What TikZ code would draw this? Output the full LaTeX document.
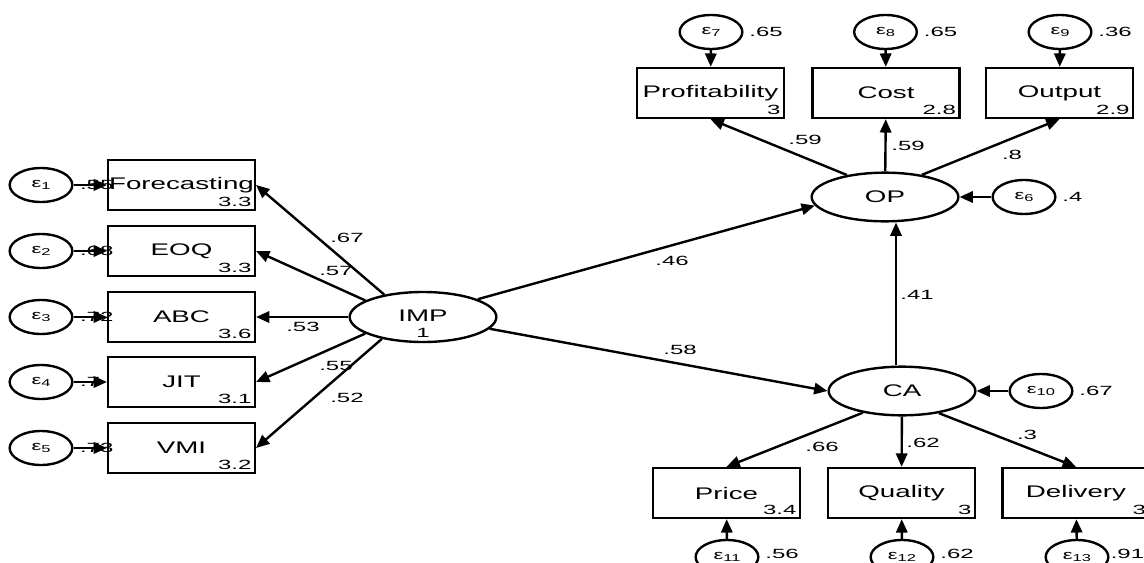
\documentclass[tikz,border=0pt]{standalone}
\usepackage{fontspec}
\setmainfont{Liberation Sans}[FakeStretch=1.65]
\newfontfamily\numfamily{Liberation Sans}[FakeStretch=1.8]
\usetikzlibrary{arrows.meta,shapes.geometric}

\newcommand{\varfont}{\fontsize{12.6}{14}\selectfont}
\newcommand{\coeffont}{\numfamily\fontsize{10}{11}\selectfont}
\newcommand{\eps}[1]{ε\raisebox{-0.35ex}{\fontsize{7.5}{8}\selectfont #1}}

\tikzset{every picture/.style={line width=1.8pt}}

\begin{document}
\begin{tikzpicture}[x=0.75pt,y=0.75pt,yscale=-1,xscale=1,
  obsbox/.style={draw,rectangle,minimum width=110pt,minimum height=37.5pt,inner sep=0pt,font=\varfont},
  latent/.style={draw,ellipse,minimum width=110pt,minimum height=36.5pt,inner sep=0pt,font=\varfont},
  errc/.style={draw,ellipse,minimum width=47pt,minimum height=25.5pt,inner sep=0pt,font=\fontsize{10}{11}\selectfont},
  lnk/.style={-{Triangle[length=10pt,width=8.5pt]}},
  coef/.style={font=\coeffont,inner sep=0pt},
  mean/.style={font=\coeffont,anchor=south east,inner sep=2.5pt}]

\useasboundingbox (0,0) rectangle (1144,563);
\clip (0,0) rectangle (1144,563);

%Shape: Latent variables
\node[latent,minimum height=37.5pt] (imp) at (423,317) {};
\node[font=\varfont] (impname) at (423,316) {IMP};
\node[coef] (impmean) at (423,333) {1};
\node[latent] (op) at (885,197) {OP};
\node[latent] (ca) at (902,391) {CA};

%Shape: Observed variables (left)
\node[obsbox] (fc) at (181.5,185) {Forecasting};
\node[obsbox] (eoq) at (181.5,251) {EOQ};
\node[obsbox] (abc) at (181.5,317) {ABC};
\node[obsbox] (jit) at (181.5,382) {JIT};
\node[obsbox] (vmi) at (181.5,448) {VMI};
\node[mean] (fcm) at (fc.south east) {3.3};
\node[mean] (eoqm) at (eoq.south east) {3.3};
\node[mean] (abcm) at (abc.south east) {3.6};
\node[mean] (jitm) at (jit.south east) {3.1};
\node[mean] (vmim) at (vmi.south east) {3.2};

%Shape: Observed variables (top)
\node[obsbox] (prof) at (710.5,93) {Profitability};
\node[obsbox] (cost) at (886,93) {Cost};
\node[obsbox] (outp) at (1059.5,93) {Output};
\node[mean] (profm) at (prof.south east) {3};
\node[mean] (costm) at (cost.south east) {2.8};
\node[mean] (outpm) at (outp.south east) {2.9};

%Shape: Observed variables (bottom)
\node[obsbox] (price) at (726.5,493) {Price};
\node[obsbox] (qual) at (901.5,493) {Quality};
\node[obsbox] (deliv) at (1076,493) {Delivery};
\node[mean] (pricem) at (price.south east) {3.4};
\node[mean] (qualm) at (qual.south east) {3};
\node[mean] (delivm) at (deliv.south east) {3};

%Shape: Error terms
\node[errc] (e1) at (41,185) {\eps{1}};
\node[errc] (e2) at (41,251) {\eps{2}};
\node[errc] (e3) at (41,317) {\eps{3}};
\node[errc] (e4) at (41,382) {\eps{4}};
\node[errc] (e5) at (41,448) {\eps{5}};
\node[errc] (e6) at (1024,197) {\eps{6}};
\node[errc] (e7) at (711,32) {\eps{7}};
\node[errc] (e8) at (885.5,32) {\eps{8}};
\node[errc] (e9) at (1060,32) {\eps{9}};
\node[errc] (e10) at (1041,391) {\eps{10}};
\node[errc] (e11) at (727,557) {\eps{11}};
\node[errc] (e12) at (902,557) {\eps{12}};
\node[errc] (e13) at (1077,557) {\eps{13}};

% Text Node: error variances
\node[coef,anchor=west] (v1) at ([xshift=4pt]e1.east) {.55};
\node[coef,anchor=west] (v2) at ([xshift=4pt]e2.east) {.68};
\node[coef,anchor=west] (v3) at ([xshift=4pt]e3.east) {.72};
\node[coef,anchor=west] (v4) at ([xshift=4pt]e4.east) {.7};
\node[coef,anchor=west] (v5) at ([xshift=4pt]e5.east) {.73};
\node[coef,anchor=west] (v6) at ([xshift=3.5pt]e6.east) {.4};
\node[coef,anchor=west] (v7) at ([xshift=3.5pt]e7.east) {.65};
\node[coef,anchor=west] (v8) at ([xshift=3.5pt]e8.east) {.65};
\node[coef,anchor=west] (v9) at ([xshift=3.5pt]e9.east) {.36};
\node[coef,anchor=west] (v10) at ([xshift=3.5pt]e10.east) {.67};
\node[coef,anchor=west] (v11) at ([xshift=3.5pt,yshift=-2pt]e11.east) {.56};
\node[coef,anchor=west] (v12) at ([xshift=3.5pt,yshift=-2pt]e12.east) {.62};
\node[coef,anchor=west] (v13) at ([xshift=0pt,yshift=-2pt]e13.east) {.91};

%Straight Lines: error paths
\foreach \e/\v in {e1/fc,e2/eoq,e3/abc,e4/jit,e5/vmi,e6/op,e7/prof,e8/cost,e9/outp,e10/ca,e11/price,e12/qual,e13/deliv}
  \draw[lnk] (\e) -- (\v);

%Straight Lines: loadings
\draw[lnk] (imp.150) -- (fc.east);
\draw[lnk] (imp.164) -- (eoq.east);
\draw[lnk] (imp.west) -- (abc.east);
\draw[lnk] (imp.196) -- (jit.east);
\draw[lnk] (imp.208) -- (vmi.east);
\draw[lnk] (op.150) -- (prof.south);
\draw[lnk] (op) -- (cost);
\draw[lnk] (op.31) -- (outp.south);
\draw[lnk] (ca.209) -- (price.north);
\draw[lnk] (ca) -- (qual);
\draw[lnk] (ca.329) -- (deliv.north);

%Straight Lines: structural paths
\coordinate (vx) at (896,300);
\draw[lnk] (imp.18) -- (op.187);
\draw[lnk] (imp.350) -- (ca.west);
\draw[lnk] (ca.north -| vx) -- (op.south -| vx);

% Text Node: coefficients
\node[coef] (c1) at (347,238) {.67};
\node[coef] (c2) at (336,271) {.57};
\node[coef] (c3) at (303,327) {.53};
\node[coef] (c4) at (336,366) {.55};
\node[coef] (c5) at (347,398) {.52};
\node[coef] (c6) at (805,140) {.59};
\node[coef] (c7) at (908,146) {.59};
\node[coef] (c8) at (1012,155) {.8};
\node[coef] (c9) at (672,261) {.46};
\node[coef] (c10) at (680,350) {.58};
\node[coef] (c11) at (917,295) {.41};
\node[coef] (c12) at (822,447) {.66};
\node[coef] (c13) at (923,443) {.62};
\node[coef] (c14) at (1027,435) {.3};

\end{tikzpicture}
\end{document}
